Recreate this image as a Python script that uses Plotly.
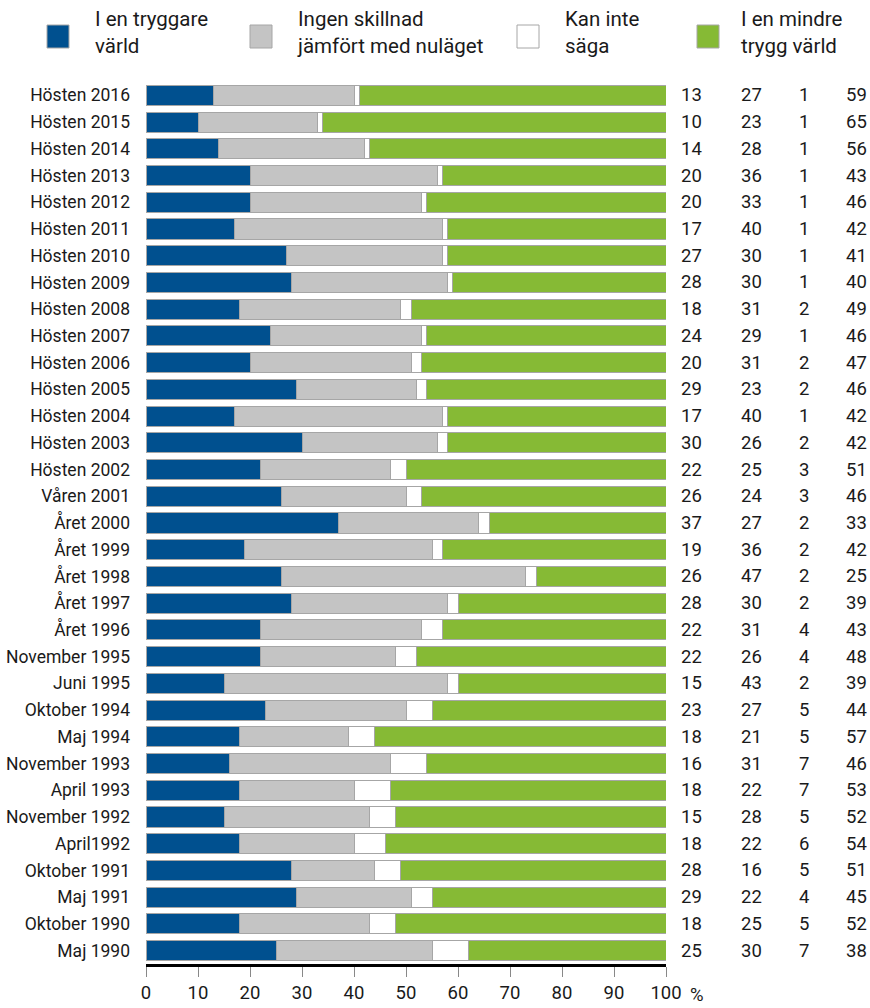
import plotly.graph_objects as go

categories = ["Hösten 2016", "Hösten 2015", "Hösten 2014", "Hösten 2013", "Hösten 2012",
              "Hösten 2011", "Hösten 2010", "Hösten 2009", "Hösten 2008", "Hösten 2007",
              "Hösten 2006", "Hösten 2005", "Hösten 2004", "Hösten 2003", "Hösten 2002",
              "Våren 2001", "Året 2000", "Året 1999", "Året 1998", "Året 1997", "Året 1996",
              "November 1995", "Juni 1995", "Oktober 1994", "Maj 1994", "November 1993",
              "April 1993", "November 1992", "April1992", "Oktober 1991", "Maj 1991",
              "Oktober 1990", "Maj 1990"]
tryggare = [13, 10, 14, 20, 20, 17, 27, 28, 18, 24, 20, 29, 17, 30, 22, 26, 37, 19, 26, 28, 22,
            22, 15, 23, 18, 16, 18, 15, 18, 28, 29, 18, 25]
ingen = [27, 23, 28, 36, 33, 40, 30, 30, 31, 29, 31, 23, 40, 26, 25, 24, 27, 36, 47, 30, 31,
         26, 43, 27, 21, 31, 22, 28, 22, 16, 22, 25, 30]
kan_inte = [1, 1, 1, 1, 1, 1, 1, 1, 2, 1, 2, 2, 1, 2, 3, 3, 2, 2, 2, 2, 4,
            4, 2, 5, 5, 7, 7, 5, 6, 5, 4, 5, 7]
mindre = [59, 65, 56, 43, 46, 42, 41, 40, 49, 46, 47, 46, 42, 42, 51, 46, 33, 42, 25, 39, 43,
          48, 39, 44, 57, 46, 53, 52, 54, 51, 45, 52, 38]
# green bar lengths as drawn in the picture (bars always reach 100 %)
mindre_bar = [59, 66, 57, 43, 46, 42, 42, 41, 49, 46, 47, 46, 42, 42, 51, 47, 34, 43, 25, 40, 43,
              48, 40, 45, 57, 46, 53, 52, 54, 51, 45, 52, 38]
series_names = ["I en tryggare<br>värld", "Ingen skillnad<br>jämfört med nuläget",
                "Kan inte<br>säga", "I en mindre<br>trygg värld"]
colors = ["#00508f", "#c4c4c4", "#ffffff", "#86ba35"]
x_ticks = [0, 10, 20, 30, 40, 50, 60, 70, 80, 90, 100]

FONT = "Roboto, Liberation Sans Narrow, sans-serif"
TXT = "#1a1a1a"

fig = go.Figure()
for name, vals, col in zip(series_names, [tryggare, ingen, kan_inte, mindre_bar], colors):
    fig.add_trace(go.Bar(
        y=categories, x=vals, orientation="h", name=name,
        marker=dict(color=col, line=dict(color="#a6a6a6", width=1)),
        showlegend=False, hoverinfo="x+y"))

W, H = 870, 1008
L, R, T, B = 146, 204, 82, 44
pw, ph = W - L - R, H - T - B

def px(x):
    return (x - L) / pw

def py(y):
    return (H - B - y) / ph

annotations = []
shapes = []
# right-hand value columns
col_x = [691, 751, 804, 856]
for cx, vals in zip(col_x, [tryggare, ingen, kan_inte, mindre]):
    for cat, v in zip(categories, vals):
        annotations.append(dict(x=px(cx), xref="paper", y=cat, yref="y", text=str(v),
                                showarrow=False, xanchor="center", yanchor="middle",
                                font=dict(size=18.5, color=TXT, family=FONT)))
# legend
leg_sw = [47, 250, 517, 697]
leg_tx = [93, 295, 563, 739]
for sx, tx, name, col in zip(leg_sw, leg_tx, series_names, colors):
    shapes.append(dict(type="rect", xref="paper", yref="paper",
                       x0=px(sx), x1=px(sx + 22), y0=py(48), y1=py(25),
                       fillcolor=col, line=dict(color="#a6a6a6", width=1)))
    annotations.append(dict(x=px(tx), xref="paper", y=py(33), yref="paper", text=name,
                            showarrow=False, xanchor="left", yanchor="middle", align="left",
                            font=dict(size=20.5, color=TXT, family=FONT)))
# percent sign
annotations.append(dict(x=px(697), xref="paper", y=py(995), yref="paper", text="%",
                        showarrow=False, xanchor="center", yanchor="middle",
                        font=dict(size=18.5, color=TXT, family=FONT)))

fig.update_layout(
    barmode="stack", bargap=0.25,
    width=W, height=H,
    margin=dict(l=L, r=R, t=T, b=B, pad=0, autoexpand=False),
    plot_bgcolor="white", paper_bgcolor="white",
    font=dict(family=FONT, color=TXT),
    xaxis=dict(range=[0, 100], tickvals=x_ticks, ticks="outside", ticklen=10,
               tickcolor="#888888", tickwidth=1, showgrid=False, zeroline=False,
               showline=True, linecolor="black", linewidth=3, automargin=False,
               tickfont=dict(size=18.5, family=FONT, color=TXT)),
    yaxis=dict(autorange="reversed", showgrid=False, zeroline=False, showline=False,
               ticks="", ticklabelstandoff=15, automargin=False,
               tickfont=dict(size=17.5, family=FONT, color=TXT)),
    annotations=annotations, shapes=shapes,
)

fig.write_html("out.html", config={"displayModeBar": False},
               post_script="document.body.style.margin='0';document.body.style.overflow='hidden';")
